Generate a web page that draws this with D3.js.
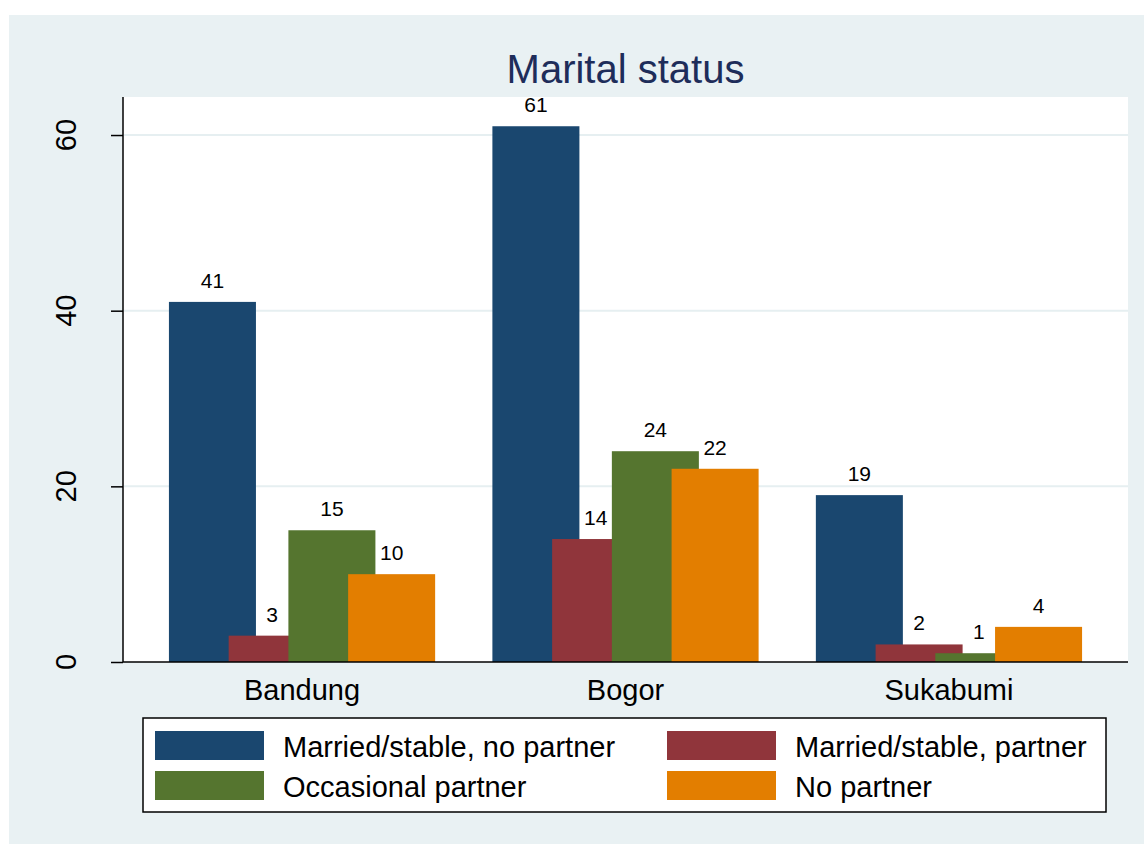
<!DOCTYPE html>
<html>
<head>
<meta charset="utf-8">
<script src="https://cdn.jsdelivr.net/npm/d3@7"></script>
<style>
  body { margin: 0; background: #fff; }
  text { font-family: "Liberation Sans", Arial, sans-serif; }
</style>
</head>
<body>
<script>
// data
var categories = ['Bandung', 'Bogor', 'Sukabumi'];
var series = ['Married/stable, no partner', 'Married/stable, partner', 'Occasional partner', 'No partner'];
var colors = ['#1a476f', '#90353b', '#55752f', '#e37e00'];
var values = [
  [41, 3, 15, 10],   // Bandung
  [61, 14, 24, 22],  // Bogor
  [19, 2, 1, 4]      // Sukabumi
];
var yTicks = [0, 20, 40, 60];

var W = 1144, H = 844;
// note: "top" is taken by window.top, so plot edges get a prefix
var plotL = 123, plotR = 1128, plotT = 97, plotB = 662;

var svg = d3.select('body').append('svg')
  .attr('width', W)
  .attr('height', H);

// background
svg.append('rect')
  .attr('x', 9).attr('y', 15)
  .attr('width', W - 9).attr('height', H - 15)
  .attr('fill', '#e9f1f3');

svg.append('rect')
  .attr('x', plotL).attr('y', plotT)
  .attr('width', plotR - plotL).attr('height', plotB - plotT)
  .attr('fill', '#fff');

var y = d3.scaleLinear().domain([0, 64.33]).range([plotB, plotT]);

var x0 = d3.scaleBand()
  .domain(categories)
  .range([plotL, plotR])
  .paddingInner(0)
  .paddingOuter(0.0535);

var bw = x0.bandwidth();
var x1 = d3.scalePoint()
  .domain(series)
  .range([-0.277 * bw, 0.277 * bw]);
var barW = 0.269 * bw;

// gridlines
svg.append('g')
  .selectAll('line')
  .data(yTicks.filter(function(d) { return d > 0; }))
  .enter().append('line')
    .attr('x1', plotL + 1).attr('x2', plotR)
    .attr('y1', function(d) { return y(d); })
    .attr('y2', function(d) { return y(d); })
    .style('stroke', '#e6eff1')
    .style('stroke-width', 2);

// bars
var rows = [];
categories.forEach(function(c, i) {
  series.forEach(function(s, j) {
    rows.push({cat: c, ser: s, val: values[i][j], col: colors[j]});
  });
});

var group = svg.append('g');
group.selectAll('rect')
  .data(rows)
  .enter().append('rect')
    .attr('x', function(d) { return x0(d.cat) + bw / 2 + x1(d.ser) - barW / 2; })
    .attr('y', function(d) { return y(d.val); })
    .attr('width', barW)
    .attr('height', function(d) { return y(0) - y(d.val); })
    .attr('fill', function(d) { return d.col; });

group.selectAll('text')
  .data(rows)
  .enter().append('text')
    .attr('x', function(d) { return x0(d.cat) + bw / 2 + x1(d.ser); })
    .attr('y', function(d) { return y(d.val) - 14; })
    .attr('text-anchor', 'middle')
    .style('font-size', '21px')
    .style('fill', '#000')
    .text(function(d) { return d.val; });

// axes
var yAxis = svg.append('g')
  .attr('transform', 'translate(' + plotL + ',0)')
  .call(d3.axisLeft(y).tickValues(yTicks).tickSize(12).tickFormat(''));
yAxis.select('.domain').attr('d', 'M0,' + plotT + 'V' + plotB).style('stroke', '#000').style('stroke-width', 1.5);
yAxis.selectAll('.tick line').style('stroke', '#000').style('stroke-width', 1.5);

svg.append('g')
  .selectAll('text')
  .data(yTicks)
  .enter().append('text')
    .attr('transform', function(d) { return 'translate(76,' + y(d) + ') rotate(-90)'; })
    .attr('text-anchor', 'middle')
    .style('font-size', '29px')
    .text(function(d) { return d; });

svg.append('line')
  .attr('x1', plotL).attr('x2', plotR)
  .attr('y1', plotB).attr('y2', plotB)
  .style('stroke', '#000').style('stroke-width', 1.5);

svg.append('g')
  .selectAll('text')
  .data(categories)
  .enter().append('text')
    .attr('x', function(d) { return x0(d) + bw / 2; })
    .attr('y', 700)
    .attr('text-anchor', 'middle')
    .style('font-size', '29px')
    .text(function(d) { return d; });

// title
svg.append('text')
  .attr('x', (plotL + plotR) / 2)
  .attr('y', 83)
  .attr('text-anchor', 'middle')
  .style('font-size', '40px')
  .style('fill', '#1e2d5a')
  .text('Marital status');

// legend
svg.append('rect')
  .attr('x', 143).attr('y', 718)
  .attr('width', 963).attr('height', 94)
  .attr('fill', '#fff')
  .style('stroke', '#000').style('stroke-width', 1.5);

var legend = svg.append('g')
  .selectAll('g')
  .data(series)
  .enter().append('g')
    .attr('transform', function(d, i) {
      return 'translate(' + (155 + (i % 2) * 512) + ',' + (731 + Math.floor(i / 2) * 40) + ')';
    });

legend.append('rect')
  .attr('width', 109).attr('height', 29)
  .attr('fill', function(d, i) { return colors[i]; });

legend.append('text')
  .attr('x', 128).attr('y', 26)
  .style('font-size', '29px')
  .text(function(d) { return d; });
</script>
</body>
</html>
